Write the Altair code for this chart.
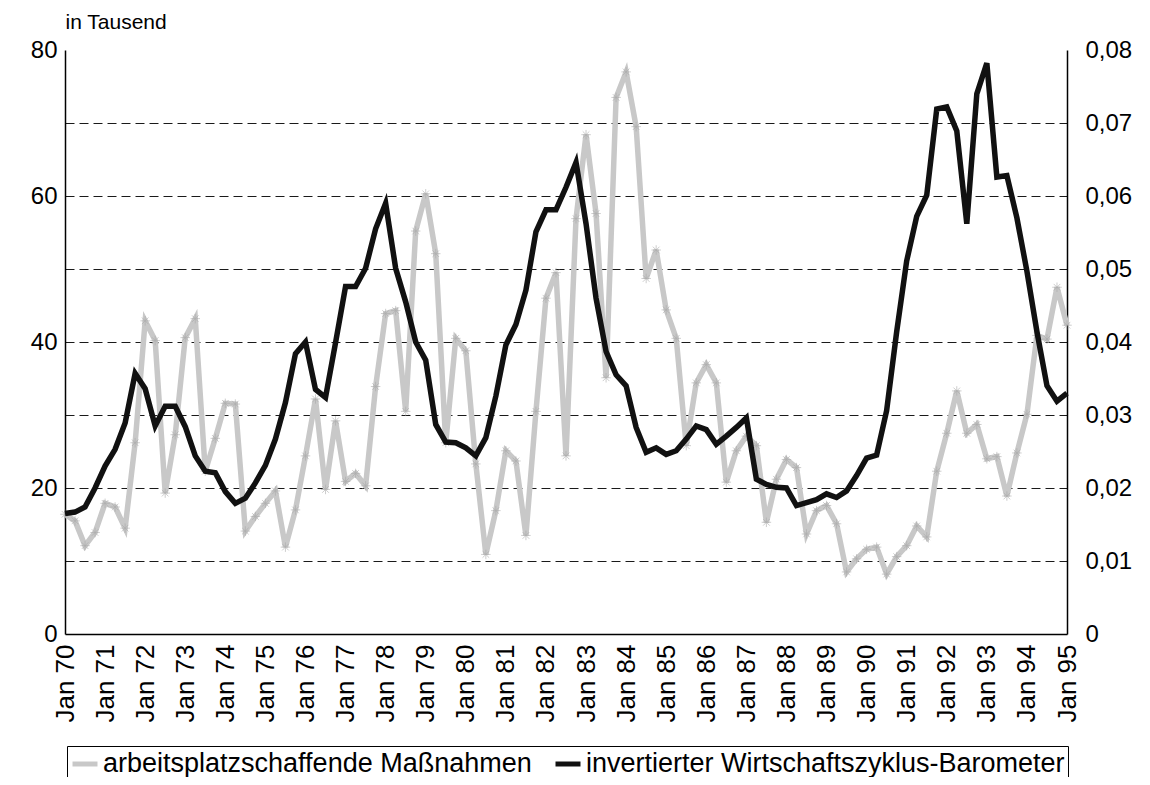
import altair as alt
import pandas as pd

# quarterly observations, Jan 1970 .. Jan 1995 (101 quarters)
quarters = list(range(101))

year_labels = ["Jan 70", "Jan 71", "Jan 72", "Jan 73", "Jan 74", "Jan 75", "Jan 76",
               "Jan 77", "Jan 78", "Jan 79", "Jan 80", "Jan 81", "Jan 82", "Jan 83",
               "Jan 84", "Jan 85", "Jan 86", "Jan 87", "Jan 88", "Jan 89", "Jan 90",
               "Jan 91", "Jan 92", "Jan 93", "Jan 94", "Jan 95"]
year_ticks = [0, 4, 8, 12, 16, 20, 24, 28, 32, 36, 40, 44, 48, 52, 56, 60, 64, 68,
              72, 76, 80, 84, 88, 92, 96, 100]

left_ticks = [0, 10, 20, 30, 40, 50, 60, 70, 80]
right_ticks = [0, 0.01, 0.02, 0.03, 0.04, 0.05, 0.06, 0.07, 0.08]

name_gray = "arbeitsplatzschaffende Maßnahmen"
name_black = "invertierter Wirtschaftszyklus-Barometer"

# arbeitsplatzschaffende Maßnahmen (in Tausend), left axis
gray = [16.4, 15.5, 12.1, 13.9, 17.9, 17.4, 14.5, 26.2, 42.9, 40.2,
        19.3, 27.3, 40.6, 43.2, 22.3, 26.8, 31.6, 31.5, 14.1, 16.1,
        17.9, 19.6, 11.9, 17.0, 24.4, 32.2, 19.8, 29.2, 20.9, 22.0,
        20.3, 33.9, 43.9, 44.3, 30.5, 55.2, 60.3, 52.1, 26.2, 40.5,
        38.8, 23.3, 10.9, 16.9, 25.1, 23.7, 13.5, 30.5, 46.0, 49.5,
        24.4, 56.9, 68.4, 57.6, 35.1, 73.5, 77.0, 69.5, 48.7, 52.6,
        44.4, 40.5, 25.8, 34.4, 36.9, 34.4, 20.8, 25.1, 27.1, 25.8,
        15.3, 21.2, 23.9, 22.8, 13.7, 16.9, 17.6, 15.1, 8.5, 10.3,
        11.6, 11.9, 8.2, 10.6, 12.1, 14.8, 13.3, 22.3, 27.5, 33.3,
        27.5, 28.7, 24.0, 24.3, 18.9, 24.8, 30.1, 40.9, 40.4, 47.5,
        42.3]

# invertierter Wirtschaftszyklus-Barometer, right axis
black = [0.0165, 0.0167, 0.0174, 0.0200, 0.0230, 0.0253, 0.0289, 0.0357, 0.0336, 0.0285,
         0.0312, 0.0312, 0.0284, 0.0244, 0.0223, 0.0221, 0.0195, 0.0179, 0.0186, 0.0207,
         0.0231, 0.0267, 0.0317, 0.0384, 0.0400, 0.0335, 0.0324, 0.0399, 0.0476, 0.0476,
         0.0501, 0.0555, 0.0590, 0.0501, 0.0455, 0.0400, 0.0375, 0.0287, 0.0263, 0.0262,
         0.0255, 0.0244, 0.0269, 0.0326, 0.0396, 0.0424, 0.0471, 0.0551, 0.0581, 0.0581,
         0.0612, 0.0646, 0.0562, 0.0460, 0.0387, 0.0355, 0.0340, 0.0283, 0.0249, 0.0255,
         0.0246, 0.0251, 0.0267, 0.0285, 0.0280, 0.0260, 0.0271, 0.0283, 0.0296, 0.0212,
         0.0205, 0.0201, 0.0200, 0.0176, 0.0180, 0.0184, 0.0192, 0.0187, 0.0196, 0.0217,
         0.0241, 0.0245, 0.0306, 0.0414, 0.0511, 0.0572, 0.0601, 0.0719, 0.0722, 0.0689,
         0.0562, 0.0740, 0.0782, 0.0626, 0.0628, 0.0570, 0.0497, 0.0414, 0.0340, 0.0319,
         0.0330]

df_gray = pd.DataFrame({"q": quarters, "v": gray, "s": name_gray})
df_black = pd.DataFrame({"q": quarters, "v": black, "s": name_black})

FONT = "Liberation Sans"

label_array = "[" + ",".join("'" + l + "'" for l in year_labels) + "]"

x_enc = alt.X(
    "q:Q",
    scale=alt.Scale(domain=[0, 100], nice=False, zero=False),
    axis=alt.Axis(
        values=year_ticks,
        labelExpr=label_array + "[round(datum.value / 4)]",
        labelAngle=270,
        labelAlign="right",
        labelBaseline="middle",
        labelPadding=10,
        labelFontSize=26,
        ticks=False,
        grid=False,
        title=None,
    ),
)

color_enc = alt.Color(
    "s:N",
    scale=alt.Scale(domain=[name_gray, name_black], range=["#c8c8c8", "#111111"]),
    legend=alt.Legend(
        title=None,
        orient="none",
        legendX=2,
        legendY=696,
        direction="horizontal",
        strokeColor="black",
        fillColor="white",
        padding=3,
        labelFont=FONT,
        labelFontSize=27,
        labelColor="black",
        labelLimit=0,
        labelOffset=3,
        symbolType="stroke",
        symbolStrokeWidth=5,
        symbolSize=625,
        columnPadding=13,
    ),
)

y_left = alt.Y(
    "v:Q",
    scale=alt.Scale(domain=[0, 80], nice=False),
    axis=alt.Axis(
        values=left_ticks,
        labelExpr="datum.value % 20 == 0 ? datum.label : ''",
        grid=True,
        gridDash=[9, 5],
        gridColor="#1a1a1a",
        gridWidth=1,
        gridOpacity={"condition": {"test": "datum.value == 0 || datum.value == 80", "value": 0}, "value": 1},
        ticks=False,
        labelPadding=8,
        labelFontSize=24,
        title="in Tausend",
        titleAngle=0,
        titleX=0,
        titleY=-28,
        titleAlign="left",
        titleBaseline="middle",
        titleFontSize=21,
        titleFontWeight="normal",
        titleFont=FONT,
    ),
)

y_right = alt.Y(
    "v:Q",
    scale=alt.Scale(domain=[0, 0.08], nice=False),
    axis=alt.Axis(
        orient="right",
        values=right_ticks,
        labelExpr="datum.value == 0 ? '0' : replace(format(datum.value, '.2f'), '.', ',')",
        grid=False,
        ticks=False,
        labelPadding=18,
        labelFontSize=24,
        title=None,
    ),
)

gray_line = alt.Chart(df_gray).mark_line(strokeWidth=5.5).encode(x=x_enc, y=y_left, color=color_enc)
gray_pts = alt.Chart(df_gray).mark_point(
    shape="M-1,0L1,0M0,-1L0,1M-0.7,-0.7L0.7,0.7M-0.7,0.7L0.7,-0.7",
    filled=False,
    stroke="#a8a8a8",
    strokeWidth=0.7,
    size=90,
    opacity=0.8,
).encode(x=x_enc, y=y_left)

gray_layer = alt.layer(gray_line, gray_pts)

black_line = alt.Chart(df_black).mark_line(strokeWidth=5.5).encode(x=x_enc, y=y_right, color=color_enc)

chart = (
    alt.layer(gray_layer, black_line)
    .resolve_scale(y="independent")
    .properties(
        width=1002,
        height=584,
        autosize=alt.AutoSizeParams(type="none"),
        padding={"left": 57, "top": 42, "right": 75, "bottom": 143},
    )
    .configure(font=FONT)
    .configure_axis(
        labelFont=FONT,
        labelColor="black",
        domainColor="black",
        domainWidth=1.5,
        titleColor="black",
    )
    .configure_view(stroke=None)
)

chart.save("out.html", embed_options={"renderer": "svg", "actions": False})
